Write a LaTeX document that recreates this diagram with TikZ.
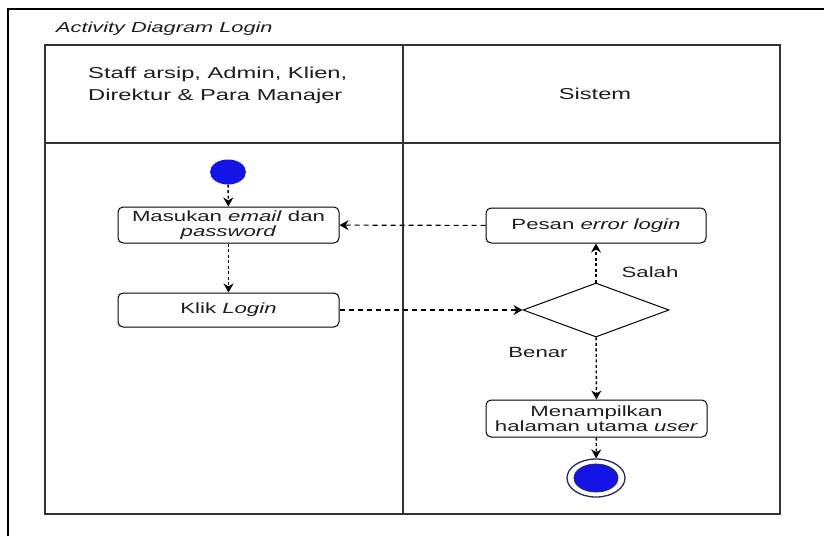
\documentclass[tikz,border=0pt]{standalone}
\usepackage{fontspec}
\setmainfont{Liberation Sans}[FakeStretch=1.5]
\usetikzlibrary{arrows.meta,shapes.geometric}
\definecolor{txt}{HTML}{1E1E1E}
\definecolor{lanec}{HTML}{333333}
\definecolor{fillblue}{HTML}{1414E6}
\definecolor{navy}{HTML}{2A2A5A}
\begin{document}
\begin{tikzpicture}[x=1pt,y=-1pt,
  every node/.style={text=txt},
  bodyfont/.style={font=\fontsize{14.8}{15.5}\selectfont},
  hdrfont/.style={font=\fontsize{15.8}{22}\selectfont},
  act/.style={draw=black, line width=1pt, rounded corners=5pt, align=center,
              inner sep=0pt, minimum width=221pt, bodyfont},
  lane/.style={draw=lanec, line width=1.5pt},
  flowv/.style={draw=black, line width=1.4pt, dash pattern=on 3pt off 2.5pt,
               -{Stealth[length=9pt,width=10pt]}},
  flowh/.style={draw=black, line width=1.1pt, dash pattern=on 5pt off 4pt,
               -{Stealth[length=9pt,width=10pt]}},
  lbl/.style={bodyfont, inner sep=0pt}
]
\useasboundingbox (0,0) rectangle (824,536);
% outer frame (cropped)
\draw[line width=1.5pt, black] (8,536) -- (8,9) -- (824,9);
% title
\node[font=\fontsize{14.5}{16}\selectfont\itshape, anchor=base west, inner sep=0pt] (title) at (56,32.5) {Activity Diagram Login};
% swimlanes
\draw[lane] (45,45) rectangle (780,514);
\draw[lane] (45,143) -- (780,143);
\draw[lane] (403,45) -- (403,514);
\node[hdrfont, anchor=west, align=left, inner sep=0pt] (actor) at (88,85) {Staff arsip, Admin, Klien,\\Direktur \& Para Manajer};
\node[hdrfont, inner sep=0pt] (sys) at (595,94) {Sistem};
% start
\node[ellipse, fill=fillblue, minimum width=36pt, minimum height=25pt, inner sep=0pt] (start) at (228,172) {};
% activities
\node[act, minimum height=36pt] (masuk) at (228.5,225) {Masukan \textit{email} dan\\\textit{password}};
\node[act, minimum height=34pt] (klik) at (228.5,310) {Klik \textit{Login}};
\node[act, minimum height=35pt, minimum width=220pt] (pesan) at (596,225.5) {Pesan \textit{error login}};
\node[diamond, draw=black, line width=1pt, minimum width=146pt, minimum height=54pt, inner sep=0pt, aspect=2.7] (dec) at (596,310) {};
\node[act, minimum height=37pt] (menam) at (596.5,418.5) {Menampilkan\\halaman utama \textit{user}};
% end
\node[ellipse, draw=navy, line width=1.3pt, fill=white, minimum width=58pt, minimum height=38pt, inner sep=0pt] (endo) at (596,478) {};
\node[ellipse, draw=navy, line width=0.8pt, fill=fillblue, minimum width=44pt, minimum height=28pt, inner sep=0pt] (endi) at (596,478) {};
% labels
\node[lbl] (salah) at (650,272) {Salah};
\node[lbl] (benar) at (538,352) {Benar};
% connectors
\draw[flowv] (start) -- (masuk);
\draw[flowv] (masuk) -- (klik);
\draw[flowh] (klik) -- (dec);
\draw[flowv] (dec) -- (pesan);
\draw[flowh] (pesan) -- (masuk);
\draw[flowv] (dec) -- (menam);
\draw[flowv] (menam) -- (endo);
\end{tikzpicture}
\end{document}
